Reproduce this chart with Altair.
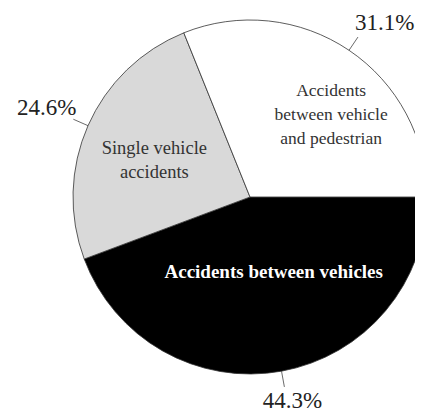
import math
import altair as alt
import pandas as pd

# ---- data ----
categories = [
    "Accidents between vehicles",
    "Single vehicle accidents",
    "Accidents between vehicle and pedestrian",
]
values = [44.3, 24.6, 31.1]
pct_labels = ["44.3%", "24.6%", "31.1%"]
inner_labels = [
    "Accidents between vehicles",
    "Single vehicle\naccidents",
    "Accidents\nbetween vehicle\nand pedestrian",
]
order = [0, 1, 2]

# ---- styles ----
fills = ["#000000", "#d9d9d9", "#ffffff"]
CX, CY, R = 242, 189, 177
R_LEAD1, R_LEAD2 = 177, 193
FONT = "Liberation Serif"

df = pd.DataFrame({
    "category": categories,
    "value": values,
    "pct": pct_labels,
    "inner": inner_labels,
    "ord": order,
})

base = (
    alt.Chart(df)
    .transform_joinaggregate(total="sum(value)")
    .transform_window(cum="sum(value)", sort=[alt.SortField("ord")], frame=[None, 0])
    .transform_calculate(a="PI/2 + 2*PI*(datum.cum - datum.value/2)/datum.total")
    .transform_calculate(
        lx1=f"{CX} + {R_LEAD1}*sin(datum.a)",
        ly1=f"{CY} - {R_LEAD1}*cos(datum.a)",
        lx2=f"{CX} + {R_LEAD2}*sin(datum.a)",
        ly2=f"{CY} - {R_LEAD2}*cos(datum.a)",
    )
)

pie = alt.Chart(df).mark_arc(radius=R, stroke="#333333", strokeWidth=0.8).encode(
    theta=alt.Theta("value:Q", stack=True,
                    scale=alt.Scale(range=[math.pi / 2, math.pi / 2 + 2 * math.pi])),
    color=alt.Color("category:N", scale=alt.Scale(domain=categories, range=fills), legend=None),
    order=alt.Order("ord:Q"),
    x=alt.value(CX),
    y=alt.value(CY),
)

leaders = base.mark_rule(color="#444444", strokeWidth=0.8).encode(
    x=alt.X("lx1:Q", scale=None, axis=None),
    y=alt.Y("ly1:Q", scale=None, axis=None),
    x2="lx2:Q",
    y2="ly2:Q",
)


def pct_layer(cat, align, dx, dy):
    return base.transform_filter(alt.datum.category == cat).mark_text(
        align=align, baseline="alphabetic", dx=dx, dy=dy,
        font=FONT, fontSize=23, color="#222222",
    ).encode(
        x=alt.X("lx2:Q", scale=None, axis=None),
        y=alt.Y("ly2:Q", scale=None, axis=None),
        text="pct:N",
    )


def inner_layer(cat, r, dx, dy, color, weight, size):
    return (
        base.transform_filter(alt.datum.category == cat)
        .transform_calculate(
            ix=f"{CX} + {r}*sin(datum.a)",
            iy=f"{CY} - {r}*cos(datum.a)",
        )
        .mark_text(
            align="center", baseline="middle", dx=dx, dy=dy, lineBreak="\n",
            lineHeight=24, font=FONT, fontSize=size, fontWeight=weight, color=color,
        )
        .encode(
            x=alt.X("ix:Q", scale=None, axis=None),
            y=alt.Y("iy:Q", scale=None, axis=None),
            text="inner:N",
        )
    )


chart = alt.layer(
    pie,
    leaders,
    pct_layer(categories[2], "left", -3, -7),
    pct_layer(categories[1], "right", 3, -4),
    pct_layer(categories[0], "center", 8, 21),
    inner_layer(categories[2], 120, 14, -7, "#333333", "normal", 17.5),
    inner_layer(categories[1], 110, 5, -5, "#333333", "normal", 18.5),
    inner_layer(categories[0], 77, 10, -1, "#ffffff", "bold", 19),
).properties(
    width=407, height=407, padding=0,
    autosize=alt.AutoSizeParams(type="none"),
).configure_view(stroke=None)

chart.save("out.html", embed_options={"renderer": "svg", "actions": False})
